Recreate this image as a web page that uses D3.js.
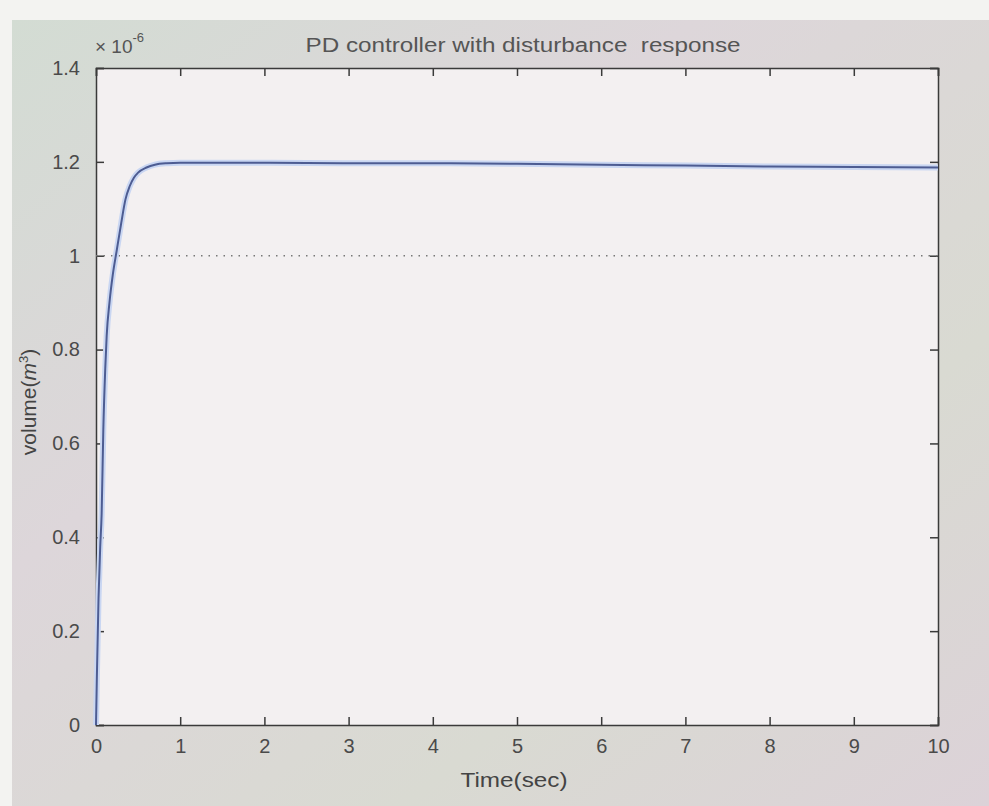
<!DOCTYPE html>
<html><head><meta charset="utf-8">
<script src="https://cdn.jsdelivr.net/npm/d3@7"></script>
<style>body{margin:0;background:#f4f4f2;}svg{display:block;font-family:"Liberation Sans",Arial,sans-serif;}</style>
</head><body>
<svg id="chart" width="989" height="806"></svg>
<script>
// data (volume in units of 1e-6 m^3)
const timeSec = [0, 0.01, 0.03, 0.05, 0.067, 0.087, 0.11, 0.127, 0.16, 0.2, 0.245, 0.3, 0.35, 0.4, 0.45, 0.5, 0.6, 0.7, 0.84, 1, 2, 3, 4, 5, 6, 7, 8, 9, 10];
const volume  = [0, 0.10, 0.27, 0.38, 0.45, 0.63, 0.76, 0.83, 0.90, 0.96, 1.01, 1.07, 1.12, 1.148, 1.166, 1.177, 1.188, 1.194, 1.197, 1.198, 1.198, 1.197, 1.197, 1.196, 1.194, 1.192, 1.190, 1.189, 1.188];
const setpoint = [1, 1];
const setpointTime = [0, 10];
const xTicks = [0,1,2,3,4,5,6,7,8,9,10];
const yTicks = [0,0.2,0.4,0.6,0.8,1,1.2,1.4];
const yTickLabels = ["0","0.2","0.4","0.6","0.8","1","1.2","1.4"];

const svg = d3.select("#chart");
const W = 989, H = 806;
const m = {l:96, r:938, t:68, b:725};

// figure background
const defs = svg.append("defs");
const g1 = defs.append("linearGradient").attr("id","bg").attr("x1","0").attr("x2","1").attr("y1","0").attr("y2","1");
g1.append("stop").attr("offset","0%").attr("stop-color","#d3dcd3");
g1.append("stop").attr("offset","35%").attr("stop-color","#ddd6da");
g1.append("stop").attr("offset","70%").attr("stop-color","#d9dad2");
g1.append("stop").attr("offset","100%").attr("stop-color","#dcd2d8");
svg.append("rect").attr("width",W).attr("height",H).attr("fill","#f3f3f1");
svg.append("rect").attr("x",12).attr("y",20).attr("width",W-12).attr("height",H-20).attr("fill","url(#bg)");

const x = d3.scaleLinear().domain([0,10]).range([m.l, m.r]);
const y = d3.scaleLinear().domain([0,1.4]).range([m.b, m.t]);

// plot area
svg.append("rect").attr("x",m.l).attr("y",m.t).attr("width",m.r-m.l).attr("height",m.b-m.t).attr("fill","#f3f0f1");

// axes (ticks inward, all sides)
const tk = 8;
const axB = svg.append("g").attr("transform",`translate(0,${m.b})`)
  .call(d3.axisBottom(x).tickValues(xTicks).tickSize(-tk).tickPadding(14).tickFormat(d3.format("d")));
const axT = svg.append("g").attr("transform",`translate(0,${m.t})`)
  .call(d3.axisTop(x).tickValues(xTicks).tickSize(-tk).tickFormat(""));
const axL = svg.append("g").attr("transform",`translate(${m.l},0)`)
  .call(d3.axisLeft(y).tickValues(yTicks).tickSize(-tk).tickPadding(16).tickFormat((d,i)=>yTickLabels[i]));
const axR = svg.append("g").attr("transform",`translate(${m.r},0)`)
  .call(d3.axisRight(y).tickValues(yTicks).tickSize(-tk).tickFormat(""));
[axB,axT,axL,axR].forEach(a=>{
  a.select(".domain").attr("stroke","#3a3a3a").attr("stroke-width",1.5);
  a.selectAll(".tick line").attr("stroke","#3a3a3a").attr("stroke-width",1.5);
  a.selectAll(".tick text").attr("fill","#4a4a4a").style("font-size","20px").style("font-family","'Liberation Sans',Arial,sans-serif");
});

// setpoint dotted line
svg.append("path")
  .datum(setpointTime.map((t,i)=>[t,setpoint[i]]))
  .attr("d", d3.line().x(d=>x(d[0])).y(d=>y(d[1])))
  .attr("fill","none").attr("stroke","#777").attr("stroke-width",1.5).attr("stroke-dasharray","1.5,6");

// response curve with light halo
const pts = timeSec.map((t,i)=>[t,volume[i]]);
const line = d3.line().x(d=>x(d[0])).y(d=>y(d[1])).curve(d3.curveMonotoneX);
svg.append("path").datum(pts).attr("d",line).attr("fill","none").attr("stroke","#c9d6f2").attr("stroke-width",6);
svg.append("path").datum(pts).attr("d",line).attr("fill","none").attr("stroke","#4d5c92").attr("stroke-width",2);

// title
svg.append("text").attr("x",(m.l+m.r)/2+6).attr("y",52).attr("text-anchor","middle")
  .attr("xml:space","preserve").style("white-space","pre")
  .attr("textLength",435).attr("lengthAdjust","spacingAndGlyphs")
  .attr("fill","#555").style("font-size","20px").text("PD controller with disturbance  response");
// exponent
const ex = svg.append("text").attr("x",95).attr("y",53).attr("fill","#555").style("font-size","19px");
ex.append("tspan").text("× 10");
ex.append("tspan").attr("dy",-11).style("font-size","13px").text("-6");
// axis labels
svg.append("text").attr("x",514).attr("y",787).attr("text-anchor","middle")
  .attr("textLength",107).attr("lengthAdjust","spacingAndGlyphs")
  .attr("fill","#444").style("font-size","20px").text("Time(sec)");
const yl = svg.append("text").attr("transform","translate(36,402) rotate(-90)").attr("text-anchor","middle")
  .attr("fill","#444").style("font-size","21px");
yl.append("tspan").text("volume(");
yl.append("tspan").style("font-style","italic").text("m");
yl.append("tspan").attr("dy",-8).style("font-size","13px").text("3");
yl.append("tspan").attr("dy",8).text(")");
</script>
</body></html>
